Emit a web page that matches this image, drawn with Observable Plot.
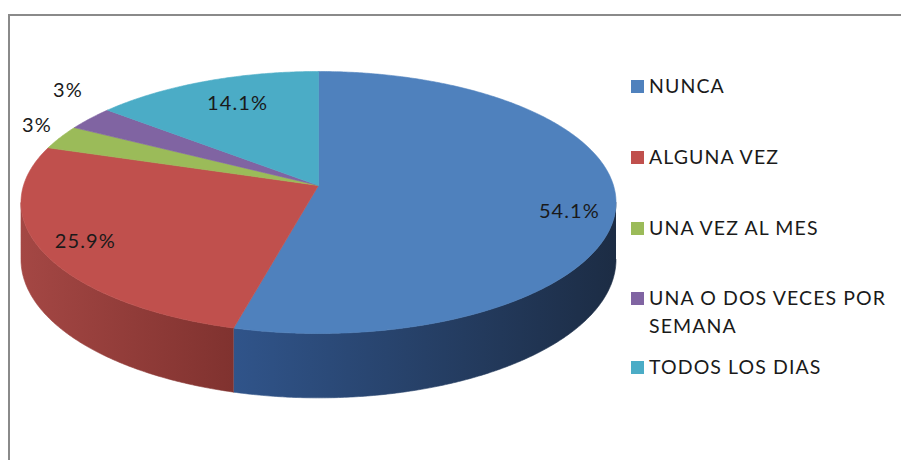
<!DOCTYPE html>
<html>
<head>
<meta charset="utf-8">
<script src="https://cdn.jsdelivr.net/npm/d3@7"></script>
<script src="https://cdn.jsdelivr.net/npm/@observablehq/plot@0.6"></script>
<style>
  html, body { margin: 0; padding: 0; background: #fff; }
  #wrap { position: relative; width: 901px; height: 460px; overflow: hidden; font-family: Lato, "Open Sans", sans-serif; }
  #frame { position: absolute; left: 8px; top: 14px; width: 1000px; height: 600px;
           border-top: 2px solid #8a8a8a; border-left: 2px solid #8a8a8a; box-sizing: border-box; }
  #chart { position: absolute; left: 0; top: 0; }
  .lg-item { position: absolute; left: 631px; display: flex; align-items: flex-start; }
  .lg-swatch { width: 13px; height: 13px; margin-right: 5px; flex: none; }
  .lg-text { font-size: 19.5px; line-height: 28px; color: #1a1a1a; width: 252px; letter-spacing: 1.1px; }
</style>
</head>
<body>
<div id="wrap">
  <div id="frame"></div>
  <div id="chart"></div>
  <div id="legend"></div>
</div>
<script>
// ---- data ----
const categories = ["NUNCA", "ALGUNA VEZ", "UNA VEZ AL MES", "UNA O DOS VECES POR SEMANA", "TODOS LOS DIAS"];
const values = [54.1, 25.9, 3, 3, 14.1];
const valueLabels = ["54.1%", "25.9%", "3%", "3%", "14.1%"];

// ---- styles ----
const topColors = ["#4F81BD", "#C0504D", "#9BBB59", "#8064A2", "#4BACC6"];
const wallColors = [["#30548A", "#1C2C44"], ["#A44744", "#80322F"], ["#7A9445", "#5E7334"], ["#654F81", "#4C3B61"], ["#3A8A9E", "#2B6878"]];

// ---- layout ----
const cx = 318, cy = 185;     // apex of the pie (pixels)
const rx = 295, ry = 128.8;   // projected radii
const k = 0.1297;             // perspective factor
const hU = 0.435;             // thickness in y units
const labelPlace = [[0.852, 103.4], [0.854, 241.2], [1.13, 296], [1.245, 311], [0.756, 336.7]]; // [radius, angle°]
const legendTops = [79, 150, 221, 291, 360];

const rad = Math.PI / 180;
function proj(X, Z, drop = 0) {
  const s = 1 / (1 - k * Z);
  return {x: X * s, y: (Z + drop) * s};
}
const arcs = d3.pie().sort(null).value(d => d)(values);

// top surfaces
const topPts = [];
arcs.forEach((a, i) => {
  const cat = categories[i];
  topPts.push({...proj(0, 0), cat});
  const n = Math.max(2, Math.ceil((a.endAngle - a.startAngle) / (0.5 * rad)));
  for (let j = 0; j <= n; j++) {
    const t = a.startAngle + (a.endAngle - a.startAngle) * j / n;
    topPts.push({...proj(Math.sin(t), -Math.cos(t)), cat});
  }
  topPts.push({...proj(0, 0), cat});
});

// front walls (visible between the side silhouettes)
const vis0 = Math.acos(-k), vis1 = 2 * Math.PI - Math.acos(-k);
const walls = [];
arcs.forEach((a, i) => {
  const s = Math.max(a.startAngle, vis0), e = Math.min(a.endAngle, vis1);
  if (e <= s) return;
  const n = Math.max(2, Math.ceil((e - s) / (0.5 * rad)));
  const pts = [];
  for (let j = 0; j <= n; j++) {
    const t = s + (e - s) * j / n;
    pts.push(proj(Math.sin(t), -Math.cos(t)));
  }
  for (let j = n; j >= 0; j--) {
    const t = s + (e - s) * j / n;
    pts.push(proj(Math.sin(t), -Math.cos(t), hU));
  }
  walls.push({i, pts});
});

// labels
const labelData = arcs.map((a, i) => {
  const [r, ang] = labelPlace[i];
  const t = ang * rad;
  return {...proj(r * Math.sin(t), -r * Math.cos(t)), text: valueLabels[i]};
});

const plot = Plot.plot({
  width: 901,
  height: 460,
  margin: 0,
  x: {domain: [-1, 1], range: [cx - rx, cx + rx], axis: null},
  y: {domain: [-1, 1], range: [cy - ry, cy + ry], axis: null},
  color: {domain: categories, range: topColors},
  marks: [
    ...walls.map(w => Plot.line(w.pts, {x: "x", y: "y", fill: `url(#wall-${w.i})`, stroke: `url(#wall-${w.i})`, strokeWidth: 0.6, curve: "linear"})),
    Plot.line(topPts, {x: "x", y: "y", z: "cat", fill: "cat", stroke: "cat", strokeWidth: 0.6, curve: "linear"}),
    Plot.text(labelData, {x: "x", y: "y", text: "text", fill: "#1a1a1a", fontSize: 20, fontFamily: "Lato, sans-serif"})
  ]
});

// gradients for walls
const defs = d3.select(plot).insert("defs", ":first-child");
wallColors.forEach(([c0, c1], i) => {
  const g = defs.append("linearGradient").attr("id", `wall-${i}`).attr("x1", 0).attr("x2", 1).attr("y1", 0).attr("y2", 0);
  g.append("stop").attr("offset", "0%").attr("stop-color", c0);
  g.append("stop").attr("offset", "100%").attr("stop-color", c1);
});
d3.select(plot).selectAll("text").style("letter-spacing", "1.1px");
document.getElementById("chart").appendChild(plot);

// legend
const legend = d3.select("#legend");
categories.forEach((c, i) => {
  const item = legend.append("div").attr("class", "lg-item").style("top", legendTops[i] + "px");
  item.append("div").attr("class", "lg-swatch").style("background", topColors[i]).style("margin-top", "1px");
  item.append("div").attr("class", "lg-text").style("margin-top", "-7px").text(c);
});
</script>
</body>
</html>
